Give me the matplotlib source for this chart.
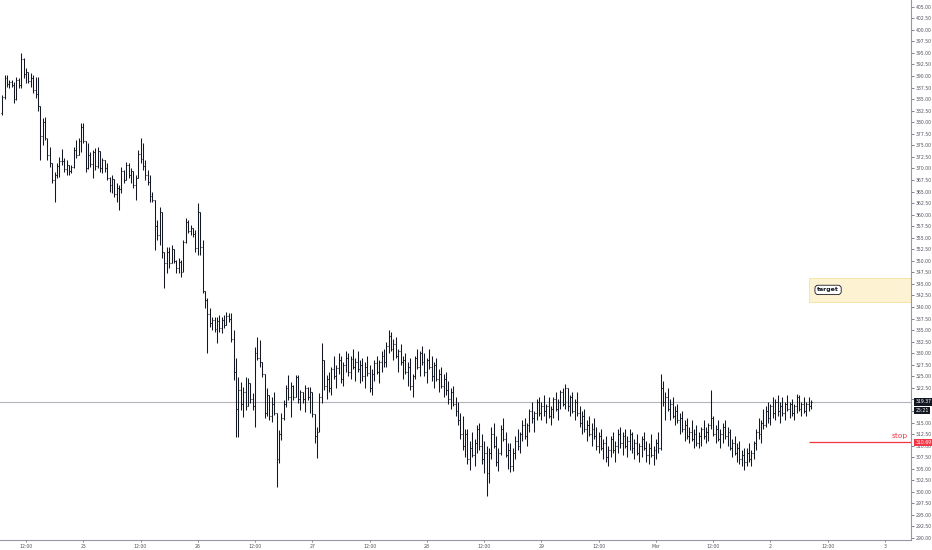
import numpy as np
import pandas as pd
import matplotlib
matplotlib.use("Agg")
import matplotlib.pyplot as plt
import matplotlib.dates as mdates
import matplotlib.transforms as mtransforms
from matplotlib.patches import Rectangle

# 30 min bars, first bar 2024-02-24 07:00
first_open = 382.0
highs = [
    385.9, 390.2, 390.2, 389.1, 389.1, 388.7, 389.8, 389.6, 395.0, 393.9,
    391.7, 390.6, 390.6, 390.2, 389.8, 389.7, 383.4, 380.9, 381.1, 376.5,
    374.6, 371.2, 369.2, 371.2, 372.5, 374.2, 372.3, 371.8, 370.7, 370.7,
    374.6, 376.1, 376.6, 379.8, 379.8, 376.0, 375.5, 373.5, 374.0, 374.4,
    374.6, 373.8, 372.3, 371.8, 371.2, 368.2, 368.6, 367.8, 366.8, 366.4,
    370.3, 369.7, 371.4, 371.2, 370.1, 369.5, 368.6, 374.0, 376.6, 375.5,
    371.8, 369.7, 368.6, 364.9, 363.2, 358.8, 361.6, 360.5, 352.0, 353.0,
    353.0, 353.4, 352.5, 350.2, 350.6, 350.2, 354.5, 359.3, 358.8, 357.8,
    357.1, 356.7, 362.5, 360.5, 354.5, 343.5, 342.0, 339.8, 337.8, 337.8,
    337.8, 338.3, 337.8, 338.3, 338.9, 338.7, 338.7, 335.0, 328.9, 324.9,
    323.8, 322.7, 324.9, 324.7, 323.5, 321.4, 331.3, 333.5, 332.8, 328.1,
    325.5, 322.5, 321.0, 320.5, 321.6, 317.0, 313.4, 317.1, 319.9, 323.2,
    325.3, 323.8, 323.2, 325.3, 325.3, 322.1, 321.6, 323.2, 322.7, 322.7,
    321.5, 316.8, 314.0, 321.4, 332.2, 328.5, 325.3, 326.0, 327.0, 329.5,
    327.5, 330.0, 329.5, 328.0, 330.5, 330.0, 329.5, 331.0, 329.0, 330.5,
    328.5, 329.0, 328.0, 329.5, 327.5, 326.5, 328.5, 329.5, 328.5, 330.5,
    331.0, 332.5, 335.0, 334.5, 333.0, 333.5, 331.0, 332.0, 329.5, 330.0,
    328.0, 329.0, 325.5, 329.5, 331.0, 330.5, 331.5, 330.0, 329.0, 331.0,
    329.5, 328.0, 329.0, 326.5, 327.0, 325.5, 326.0, 324.0, 322.5, 323.0,
    320.5, 319.5, 317.0, 316.5, 313.5, 313.5, 311.0, 313.0, 311.5, 314.5,
    315.0, 312.5, 311.0, 310.0, 309.5, 314.0, 315.0, 312.0, 309.5, 314.5,
    316.0, 313.0, 310.5, 310.5, 309.5, 312.0, 313.5, 313.0, 315.5, 316.0,
    315.0, 318.0, 319.5, 317.5, 320.0, 320.5, 319.5, 321.0, 319.0, 320.5,
    318.5, 320.5, 321.5, 320.0, 322.0, 322.5, 323.4, 322.5, 321.0, 321.5,
    320.0, 321.5, 318.5, 317.5, 318.0, 315.5, 316.5, 315.0, 316.0, 314.0,
    313.0, 313.5, 311.5, 312.0, 310.0, 312.0, 313.0, 311.0, 313.5, 314.0,
    313.0, 313.5, 312.0, 313.5, 313.0, 311.5, 312.5, 310.5, 312.0, 313.0,
    311.0, 310.5, 312.5, 310.0, 311.5, 313.0, 325.5, 324.0, 321.5, 322.5,
    320.0, 320.5, 318.5, 319.0, 317.0, 317.5, 315.5, 316.0, 314.0, 315.5,
    313.5, 314.5, 313.0, 314.0, 315.5, 314.0, 315.0, 322.1, 316.5, 314.5,
    315.5, 313.5, 315.0, 315.5, 314.0, 313.5, 311.5, 312.0, 310.5, 311.0,
    309.0, 309.5, 309.5, 310.5, 309.0, 311.0, 313.5, 316.0, 315.5, 318.0,
    318.5, 319.5, 319.0, 320.5, 320.0, 321.0, 319.5, 320.5, 319.5, 321.0,
    319.5, 320.0, 319.0, 321.2, 321.0, 319.5, 320.5, 319.5, 320.5, 319.8,
]
lows = [
    381.6, 385.0, 387.6, 387.4, 387.6, 384.2, 384.8, 387.4, 387.4, 389.6,
    388.5, 388.5, 387.6, 386.3, 385.2, 382.5, 371.8, 375.1, 376.1, 371.8,
    370.3, 366.8, 362.7, 367.9, 368.2, 370.7, 369.2, 368.6, 368.6, 369.0,
    370.1, 372.3, 372.9, 373.5, 375.5, 369.2, 369.8, 370.3, 367.9, 369.7,
    370.1, 369.2, 369.0, 369.2, 367.5, 364.9, 364.6, 363.8, 362.7, 361.0,
    364.6, 366.8, 367.5, 368.0, 366.8, 365.8, 363.2, 368.0, 371.2, 369.7,
    367.5, 366.4, 362.7, 362.7, 352.4, 354.5, 353.4, 350.6, 344.1, 347.4,
    348.4, 349.5, 349.5, 347.4, 347.4, 346.5, 347.5, 353.8, 356.0, 355.6,
    355.2, 351.9, 351.3, 351.3, 343.0, 339.8, 330.1, 335.7, 335.0, 334.6,
    332.2, 334.6, 334.4, 335.5, 336.0, 336.7, 332.4, 324.2, 311.9, 311.9,
    317.8, 316.2, 317.8, 318.5, 319.3, 317.8, 314.0, 328.5, 327.0, 324.9,
    316.0, 316.5, 315.6, 315.1, 316.6, 301.1, 306.3, 311.3, 315.6, 318.4,
    319.9, 316.2, 319.9, 320.5, 319.3, 317.8, 319.3, 317.3, 319.9, 317.1,
    316.2, 310.6, 307.4, 313.0, 319.3, 322.0, 320.0, 321.5, 321.0, 324.5,
    322.5, 325.5, 323.5, 323.0, 326.0, 325.0, 324.5, 326.5, 324.0, 326.0,
    323.5, 324.0, 322.5, 325.0, 321.5, 321.0, 324.0, 325.5, 323.5, 326.0,
    327.0, 327.0, 330.0, 330.5, 328.5, 329.0, 326.0, 327.5, 324.5, 325.5,
    323.0, 322.0, 320.5, 324.5, 326.5, 325.0, 327.5, 325.0, 323.5, 326.5,
    324.0, 322.5, 324.0, 321.5, 322.5, 320.5, 321.0, 319.0, 318.0, 318.5,
    316.5, 314.5, 311.5, 309.0, 307.5, 306.0, 304.8, 307.5, 305.5, 308.5,
    309.0, 306.0, 304.0, 299.0, 302.0, 307.0, 309.5, 305.5, 304.5, 308.0,
    311.0, 307.5, 305.0, 304.2, 304.5, 307.0, 309.0, 308.5, 311.0, 311.5,
    310.0, 313.0, 315.0, 313.0, 315.5, 316.5, 315.5, 316.5, 315.0, 316.0,
    314.5, 316.0, 317.5, 315.5, 318.0, 318.5, 318.0, 317.5, 316.5, 317.0,
    315.5, 316.5, 314.0, 312.5, 313.0, 311.0, 312.0, 310.0, 311.5, 309.0,
    308.5, 309.0, 307.0, 306.5, 305.5, 307.5, 308.5, 306.5, 308.5, 309.5,
    308.0, 309.5, 307.5, 309.0, 308.5, 307.0, 308.0, 306.5, 307.5, 309.0,
    306.5, 306.0, 307.5, 305.9, 307.0, 308.5, 309.1, 318.5, 315.5, 317.5,
    315.5, 316.0, 314.5, 315.0, 312.5, 313.0, 311.0, 311.5, 310.5, 311.0,
    309.5, 310.0, 309.5, 310.0, 311.5, 310.5, 311.0, 313.5, 312.0, 310.5,
    311.0, 309.5, 310.5, 311.5, 310.0, 309.0, 307.5, 308.0, 306.5, 306.0,
    305.5, 304.8, 305.5, 306.5, 305.5, 307.0, 309.0, 311.5, 310.5, 313.5,
    314.0, 315.0, 314.5, 316.0, 315.5, 316.5, 315.0, 316.5, 315.5, 317.5,
    316.0, 316.5, 315.5, 317.0, 317.5, 316.5, 317.0, 316.5, 317.5, 318.0,
]
closes = [
    385.4, 389.5, 388.2, 388.6, 388.0, 385.0, 389.2, 388.0, 393.6, 390.4,
    390.8, 389.0, 389.6, 387.0, 386.0, 383.4, 377.0, 380.0, 376.5, 373.0,
    371.2, 367.5, 368.5, 370.5, 371.5, 371.5, 369.8, 370.8, 369.5, 370.2,
    374.0, 373.0, 376.0, 379.0, 376.0, 370.0, 372.8, 371.0, 373.5, 370.5,
    373.8, 370.0, 371.8, 370.0, 368.0, 366.5, 367.8, 364.5, 365.8, 365.5,
    369.5, 367.5, 370.8, 368.5, 369.5, 366.5, 368.0, 373.2, 372.0, 370.5,
    368.5, 367.0, 364.0, 363.2, 357.5, 355.5, 360.5, 352.0, 349.5, 352.0,
    349.5, 352.5, 350.0, 348.5, 349.8, 347.5, 354.0, 358.5, 356.5, 357.2,
    355.8, 352.8, 360.5, 353.0, 343.5, 341.5, 338.5, 336.5, 337.2, 335.3,
    337.0, 335.5, 337.2, 336.0, 338.0, 337.5, 333.0, 326.0, 318.0, 322.0,
    319.0, 321.5, 318.5, 323.5, 320.0, 318.5, 330.0, 329.0, 328.0, 325.5,
    317.0, 321.0, 316.5, 319.0, 317.0, 307.0, 312.5, 316.0, 319.0, 322.5,
    320.5, 322.8, 320.5, 324.8, 320.0, 321.5, 320.0, 322.5, 320.5, 321.5,
    316.8, 312.0, 313.0, 320.5, 328.5, 323.0, 324.5, 322.5, 326.5, 325.0,
    326.8, 328.5, 324.5, 327.5, 329.0, 326.0, 328.8, 327.0, 328.0, 326.5,
    327.5, 325.0, 327.0, 325.8, 322.5, 325.5, 327.8, 326.0, 328.0, 329.5,
    328.0, 331.5, 333.8, 331.0, 332.0, 329.5, 330.5, 328.0, 328.5, 326.0,
    327.0, 323.0, 325.0, 329.0, 327.0, 330.0, 328.0, 326.0, 328.5, 327.0,
    325.0, 327.5, 324.5, 325.5, 323.0, 324.5, 322.0, 320.0, 321.5, 319.0,
    317.5, 315.5, 312.5, 310.0, 312.5, 307.0, 309.5, 308.0, 310.5, 313.5,
    310.0, 307.0, 308.5, 304.0, 308.5, 312.5, 310.0, 306.5, 308.5, 313.5,
    311.5, 308.0, 309.0, 305.5, 308.5, 311.0, 310.0, 312.5, 314.5, 312.0,
    314.5, 317.5, 316.0, 317.0, 319.5, 317.0, 318.5, 317.5, 318.5, 316.5,
    318.0, 320.0, 318.0, 319.5, 321.5, 319.0, 322.5, 318.5, 320.5, 317.5,
    319.5, 317.0, 315.0, 316.5, 313.5, 314.5, 312.5, 313.5, 312.0, 310.0,
    312.0, 309.5, 310.5, 307.5, 309.0, 311.5, 309.0, 310.0, 312.5, 310.5,
    312.0, 310.0, 311.0, 312.5, 309.5, 310.5, 308.5, 310.0, 311.5, 309.5,
    308.0, 309.5, 308.0, 309.0, 310.5, 309.5, 322.5, 319.5, 320.5, 318.0,
    319.0, 316.5, 317.5, 315.5, 316.0, 313.5, 314.5, 312.0, 313.0, 311.5,
    312.5, 310.5, 312.0, 313.5, 312.0, 313.0, 314.5, 316.0, 312.5, 313.5,
    311.5, 312.5, 314.0, 312.0, 313.0, 309.5, 310.5, 308.5, 309.5, 307.0,
    308.0, 306.5, 308.5, 307.0, 308.5, 310.5, 313.0, 312.5, 315.0, 314.5,
    317.5, 316.0, 318.5, 317.0, 319.5, 317.5, 318.5, 317.0, 319.0, 318.0,
    319.0, 317.0, 318.5, 320.5, 318.0, 319.0, 317.5, 319.0, 318.5, 319.37,
]

last_price = 319.37
countdown = "25:21"
stop_price = 310.69
target_low, target_high = 341.1, 346.3
zone_start = "2024-03-02 08:00"

times = pd.date_range("2024-02-24 07:00", periods=len(closes), freq="30min")
opens = [first_open] + closes[:-1]
hi = np.maximum(np.maximum(highs, opens), closes)
lo = np.minimum(np.minimum(lows, opens), closes)

x = mdates.date2num(times)
half = 0.4 / 48

fig = plt.figure(figsize=(9.32, 5.5), dpi=100)
ax = fig.add_axes([0, 10 / 550, 911 / 932, 540 / 550])

bar_col = "#131722"
ax.vlines(x, lo, hi, color=bar_col, lw=0.75)
ax.hlines(opens, x - half, x, color=bar_col, lw=0.75)
ax.hlines(closes, x, x + half, color=bar_col, lw=0.75)

x0 = mdates.date2num(pd.Timestamp("2024-02-24 06:33"))
x1 = mdates.date2num(pd.Timestamp("2024-03-03 05:27"))
ax.set_xlim(x0, x1)
ax.set_ylim(289.57, 406.45)

# last price line
ax.axhline(last_price, color="#b2b5be", lw=0.8, zorder=0)

# target zone
zs = mdates.date2num(pd.Timestamp(zone_start))
ax.add_patch(Rectangle((zs, target_low), x1 - zs, target_high - target_low,
                       facecolor="#fdf3d3", edgecolor="#f7e1a0", lw=0.6, zorder=0))
ax.annotate("target", xy=(zs, (target_low + target_high) / 2), xytext=(14, 0),
            textcoords="offset points", ha="center", va="center", fontsize=4.5,
            fontweight="bold", color="#131722",
            bbox=dict(boxstyle="round,pad=0.35,rounding_size=0.5", fc="white",
                      ec="#131722", lw=0.6))

# stop line
ax.hlines(stop_price, zs, x1, color="#f23645", lw=0.9)
ax.text(0.997, stop_price + 0.8, "stop", transform=mtransforms.blended_transform_factory(
    ax.transAxes, ax.transData), ha="right", va="bottom", fontsize=5.4, color="#f23645")

# price axis (labels under the last-price tags are hidden, as on the chart)
yt = np.arange(290, 405.01, 2.5)
hidden = [320.0, 317.5]
ax.set_yticks(yt)
ax.set_yticklabels(["" if v in hidden else "%.2f" % v for v in yt])
ax.yaxis.tick_right()
ax.tick_params(axis="y", labelsize=3.3, colors="#50535e", length=2, width=0.5, pad=1.5)

xt = pd.date_range("2024-02-24 12:00", "2024-03-03 00:00", freq="12h")
labels = []
for t in xt:
    if t.hour == 12:
        labels.append("12:00")
    elif t.day == 1:
        labels.append(t.strftime("%b"))
    else:
        labels.append(str(t.day))
ax.set_xticks(mdates.date2num(xt))
ax.set_xticklabels(labels)
ax.tick_params(axis="x", labelsize=3.3, colors="#50535e", length=1.5, width=0.5, pad=1.5)

for s in ["top", "left"]:
    ax.spines[s].set_visible(False)
for s in ["right", "bottom"]:
    ax.spines[s].set_color("#9598a1")
    ax.spines[s].set_linewidth(0.8)

# axis price tags
tr = mtransforms.blended_transform_factory(ax.transAxes, ax.transData)
tag = dict(textcoords="offset points", ha="left", va="center", fontsize=3.3,
           color="white", annotation_clip=False)
ax.annotate("%.2f" % last_price, xy=(1, last_price), xycoords=tr, xytext=(3, 0.3),
            bbox=dict(boxstyle="square,pad=0.25", fc="#131722", ec="none"), **tag)
ax.annotate(countdown, xy=(1, last_price), xycoords=tr, xytext=(3, -6.0),
            bbox=dict(boxstyle="square,pad=0.25", fc="#131722", ec="none"), **tag)
ax.annotate("%.2f" % stop_price, xy=(1, stop_price), xycoords=tr, xytext=(3, 0),
            bbox=dict(boxstyle="square,pad=0.25", fc="#f23645", ec="none"), **tag)

fig.savefig("out.png", dpi=100, facecolor="white")
